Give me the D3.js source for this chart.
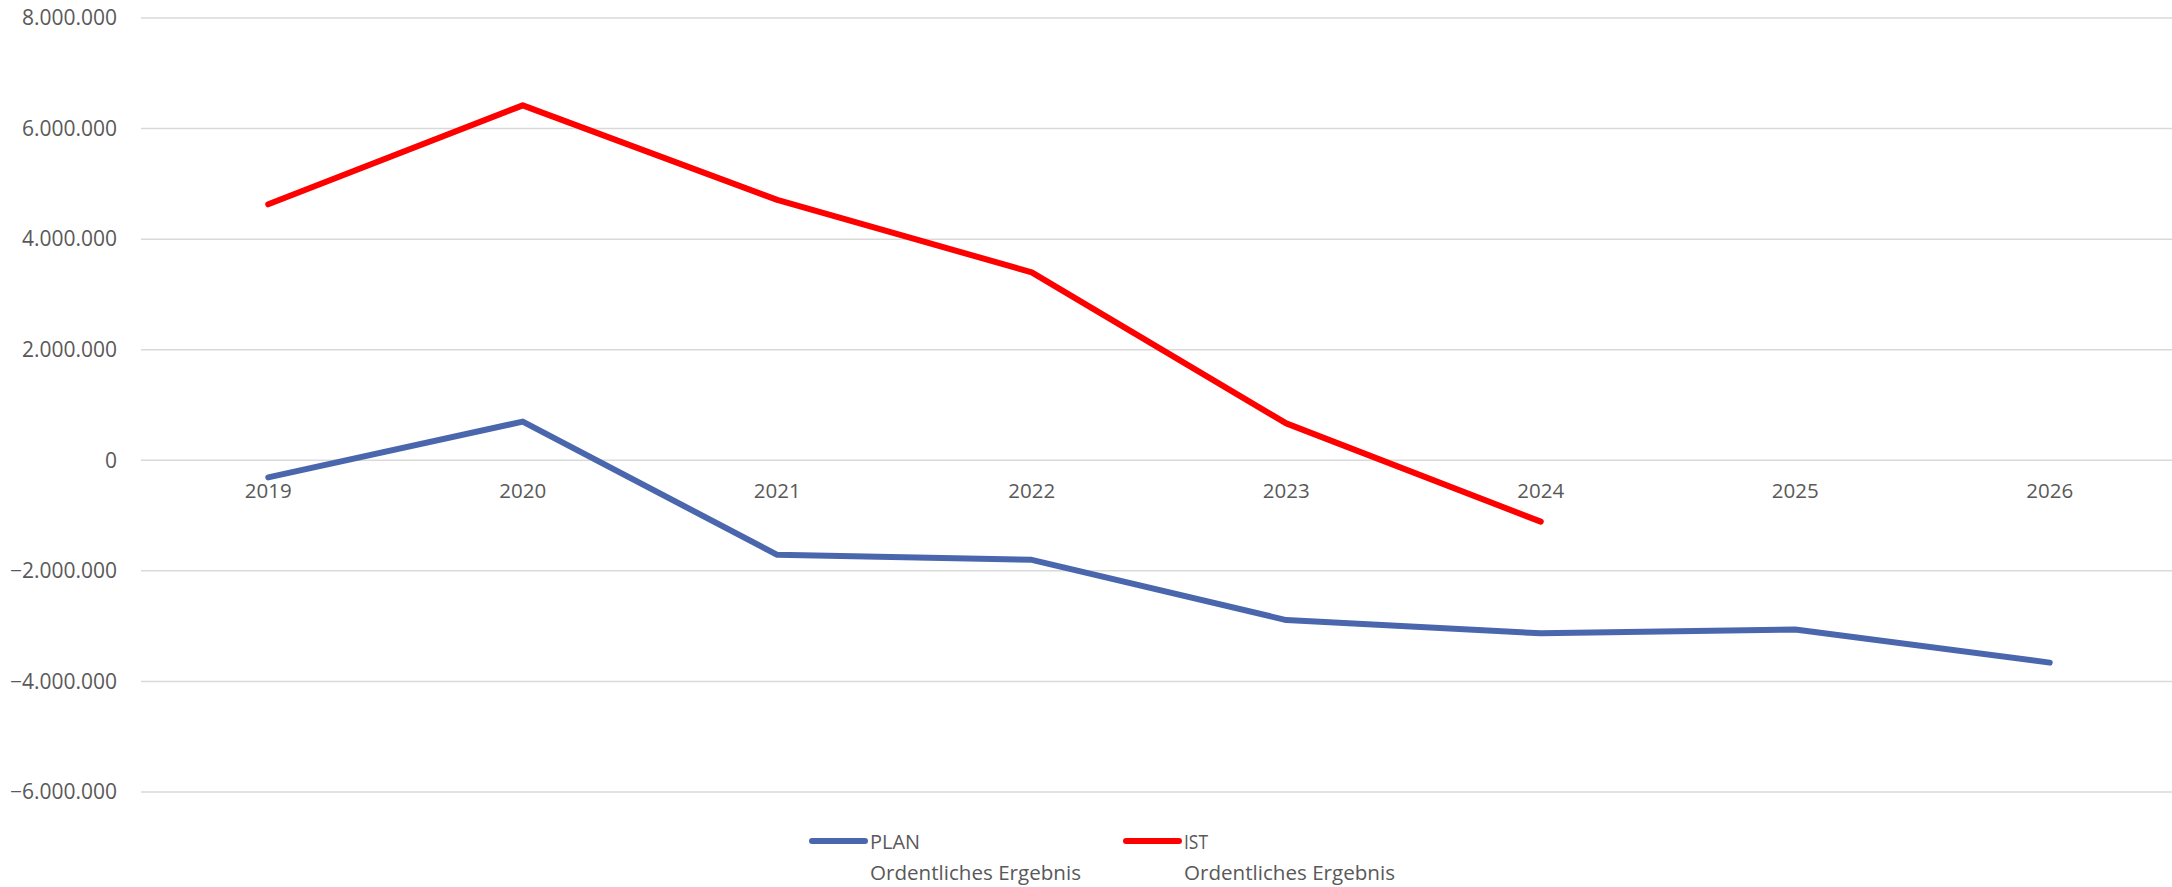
<!DOCTYPE html>
<html>
<head>
<meta charset="utf-8">
<script src="https://cdn.jsdelivr.net/npm/d3@7"></script>
<style>
  body { margin: 0; background: #fff; }
  text { font-family: "Open Sans", sans-serif; fill: #595959; }
</style>
</head>
<body>
<svg id="chart" width="2172" height="887"></svg>
<script>
// Data
const years = ['2019', '2020', '2021', '2022', '2023', '2024', '2025', '2026']
const planValues = [-310000, 700000, -1710000, -1800000, -2890000, -3130000, -3060000, -3660000]
const istValues = [4630000, 6420000, 4710000, 3400000, 667000, -1110000]
const yTicks = [-6000000, -4000000, -2000000, 0, 2000000, 4000000, 6000000, 8000000]
const seriesNames = ['PLAN', 'IST']
const seriesColors = ['#4a66ac', '#ff0000']

const svg = d3.select('#chart')
const margin = {left: 141, right: -5, top: 18, bottom: 95}
const width = +svg.attr('width')
const height = +svg.attr('height')

const x = d3.scaleBand().domain(years).range([margin.left, width - margin.right])
const y = d3.scaleLinear().domain([-6000000, 8000000]).range([height - margin.bottom, margin.top])

const fmt = d3.formatLocale({decimal: ',', thousands: '.', grouping: [3], currency: ['', '€']}).format(',d')

// Gridlines
svg.append('g')
  .selectAll('line')
  .data(yTicks)
  .join('line')
  .attr('x1', margin.left)
  .attr('x2', width)
  .attr('y1', d => y(d))
  .attr('y2', d => y(d))
  .attr('stroke', '#d9d9d9')
  .attr('stroke-width', 1.5)

// Y axis labels
const yAxis = d3.axisLeft(y).tickValues(yTicks).tickFormat(fmt).tickSize(0).tickPadding(24)
svg.append('g')
  .attr('transform', `translate(${margin.left},0)`)
  .call(yAxis)
  .call(g => g.select('.domain').remove())
  .selectAll('text')
  .attr('font-size', 21)
  .attr('fill', '#595959')
  .style('font-family', '"Open Sans", sans-serif')

// X axis labels, sitting just below the zero line
const xAxis = d3.axisBottom(x).tickSize(0).tickPadding(23)
svg.append('g')
  .attr('transform', `translate(0,${y(0)})`)
  .call(xAxis)
  .call(g => g.select('.domain').remove())
  .selectAll('text')
  .attr('font-size', 20.5)
  .attr('fill', '#595959')
  .style('font-family', '"Open Sans", sans-serif')

// Lines
const line = d3.line()
  .x((d, i) => x(years[i]) + x.bandwidth() / 2)
  .y(d => y(d))

;[planValues, istValues].forEach((vals, i) => {
  svg.append('path')
    .datum(vals)
    .attr('fill', 'none')
    .attr('stroke', seriesColors[i])
    .attr('stroke-width', 6)
    .attr('stroke-linejoin', 'round')
    .attr('stroke-linecap', 'round')
    .attr('d', line)
})

// Legend
const legend = svg.append('g')
const legendX = [812, 1126]
seriesNames.forEach((name, i) => {
  const g = legend.append('g').attr('transform', `translate(${legendX[i]},841)`)
  g.append('line')
    .attr('x1', 0).attr('x2', 53)
    .attr('stroke', seriesColors[i])
    .attr('stroke-width', 6)
    .attr('stroke-linecap', 'round')
  g.append('text')
    .attr('x', 58).attr('y', 8)
    .attr('font-size', 20)
    .attr('textLength', name === 'PLAN' ? 50 : 24)
    .attr('lengthAdjust', 'spacingAndGlyphs')
    .text(name)
  g.append('text')
    .attr('x', 58).attr('y', 39)
    .attr('font-size', 20)
    .attr('textLength', 211)
    .attr('lengthAdjust', 'spacingAndGlyphs')
    .text('Ordentliches Ergebnis')
})
</script>
</body>
</html>
